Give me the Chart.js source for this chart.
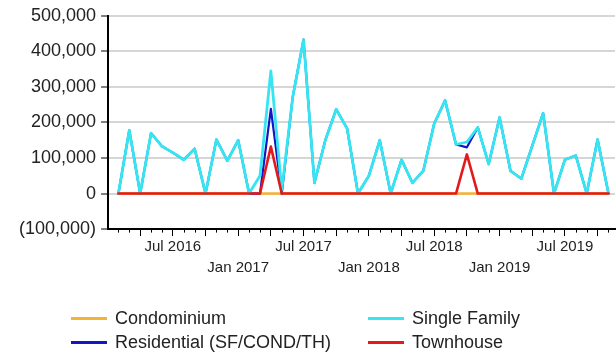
<!DOCTYPE html>
<html><head><meta charset="utf-8">
<script src="https://cdn.jsdelivr.net/npm/chart.js@4"></script>
<style>
html,body{margin:0;padding:0;background:#fff}
#wrap{position:relative;width:616px;height:352px}
.lg{position:absolute;height:20px;font:18px "Liberation Sans",Arial,sans-serif;color:#222;line-height:20px;white-space:nowrap}
.lg span{position:absolute;left:0;top:9px;width:36px;height:3px}
.lg b{font-weight:normal;position:absolute;top:0}
</style></head>
<body>
<div id="wrap">
<canvas id="c"></canvas>
<div id="legend"></div>
</div>
<script>
const months = ["2016-02","2016-03","2016-04","2016-05","2016-06","2016-07","2016-08","2016-09","2016-10","2016-11","2016-12",
"2017-01","2017-02","2017-03","2017-04","2017-05","2017-06","2017-07","2017-08","2017-09","2017-10","2017-11","2017-12",
"2018-01","2018-02","2018-03","2018-04","2018-05","2018-06","2018-07","2018-08","2018-09","2018-10","2018-11","2018-12",
"2019-01","2019-02","2019-03","2019-04","2019-05","2019-06","2019-07","2019-08","2019-09","2019-10","2019-11"];

const condominium = [0,0,0,0,0,0,0,0,0,0,0,
0,0,0,0,0,0,0,0,0,0,0,0,
0,0,0,0,0,0,0,0,0,0,0,0,
0,0,0,0,0,0,0,0,0,0,0];

const residential = [0,178000,0,170000,133000,115000,95000,126000,0,152000,92000,
150000,0,0,238000,0,270000,433000,30000,150000,237000,183000,0,
50000,150000,0,95000,30000,64000,197000,262000,138000,130000,186000,83000,
214000,64000,42000,134000,226000,0,95000,107000,0,152000,0];

const singleFamily = [0,178000,0,170000,133000,115000,95000,126000,0,152000,92000,
150000,0,50000,345000,10000,270000,433000,30000,150000,237000,183000,0,
50000,150000,0,95000,30000,64000,197000,262000,138000,145000,186000,83000,
214000,64000,42000,134000,226000,0,95000,107000,0,152000,0];

const townhouse = [0,0,0,0,0,0,0,0,0,0,0,
0,0,0,132000,0,0,0,0,0,0,0,0,
0,0,0,0,0,0,0,0,0,110000,0,0,
0,0,0,0,0,0,0,0,0,0,0];

const topRowLabels = ["Jul 2016","Jul 2017","Jul 2018","Jul 2019"];
const bottomRowLabels = ["Jan 2017","Jan 2018","Jan 2019"];
const seriesNames = ["Condominium","Residential (SF/COND/TH)","Single Family","Townhouse"];
const seriesColors = ["#f5b335","#1515c8","#35e6f2","#e31a1c"];

const monthNames = ["Jan","Feb","Mar","Apr","May","Jun","Jul","Aug","Sep","Oct","Nov","Dec"];
function monthIndex(s){const p=s.split('-').map(Number);return (p[0]-2016)*12+(p[1]-1);}
function monthName(v){return monthNames[((v%12)+12)%12]+" "+(2016+Math.floor(v/12));}
function pts(arr){return months.map((m,i)=>({x:monthIndex(m),y:arr[i]}));}
function fmt(v){const s=Math.abs(v).toLocaleString('en-US');return v<0?"("+s+")":s;}

const seriesData = [condominium,residential,singleFamily,townhouse];
const drawOrder = [3,2,1,0];
const widths = [2.6,2.2,2.8,2.6];
const datasets = seriesNames.map((n,i)=>({
  label:n, data:pts(seriesData[i]), borderColor:seriesColors[i], backgroundColor:seriesColors[i],
  borderWidth:widths[i], borderJoinStyle:'round', borderCapStyle:'round',
  pointRadius:0, tension:0, fill:false, order:drawOrder[i]
}));

const minorTicks = {
  id:'minorTicks',
  afterDraw(chart){
    const s=chart.scales.x, ctx=chart.ctx;
    ctx.save(); ctx.strokeStyle='#000'; ctx.lineWidth=1;
    s.ticks.forEach((t,i)=>{
      if(t.value%3!==0){
        const x=Math.round(s.getPixelForTick(i))+0.5;
        ctx.beginPath(); ctx.moveTo(x,s.top); ctx.lineTo(x,s.top+3.5); ctx.stroke();
      }
    });
    ctx.restore();
  }
};

new Chart(document.getElementById('c'),{
  type:'line',
  data:{datasets},
  plugins:[minorTicks],
  options:{
    responsive:true, maintainAspectRatio:false, animation:false, devicePixelRatio:1,
    layout:{padding:{left:14,right:1,top:9,bottom:73}},
    plugins:{legend:{display:false},tooltip:{enabled:false}},
    scales:{
      x:{type:'linear',min:0.05,max:46.6,
        afterBuildTicks(s){s.ticks=months.map(m=>({value:monthIndex(m)}));},
        border:{color:'#000',width:2},
        grid:{drawOnChartArea:false,tickLength:7,tickWidth:1,
          tickColor:(c)=>(c.tick&&c.tick.value%3===0)?'#000':'rgba(0,0,0,0)'},
        ticks:{autoSkip:false,maxRotation:0,minRotation:0,padding:0,color:'#222',
          font:{family:'"Liberation Sans", Arial, sans-serif',size:15,lineHeight:1.43},
          callback(v){const n=monthName(v);
            if(topRowLabels.includes(n))return [n,""];
            if(bottomRowLabels.includes(n))return ["",n];
            return "";}
        }
      },
      y:{min:-100000,max:500000,
        border:{color:'#000',width:2},
        grid:{color:(c)=>(c.tick&&c.tick.value===-100000)?'rgba(0,0,0,0)':'#d6d6d6',lineWidth:2,tickColor:'#000',tickLength:7,tickWidth:1},
        ticks:{stepSize:100000,padding:5,color:'#222',
          font:{family:'"Liberation Sans", Arial, sans-serif',size:18},
          callback:(v)=>fmt(v)}
      }
    }
  }
});

const legendPos = [[71,308],[71,332],[368,308],[368,332]];
const lg=document.getElementById('legend');
seriesNames.forEach((n,i)=>{
  const d=document.createElement('div'); d.className='lg';
  d.style.left=legendPos[i][0]+'px'; d.style.top=legendPos[i][1]+'px';
  const sp=document.createElement('span'); sp.style.background=seriesColors[i];
  const b=document.createElement('b'); b.style.left='44px'; b.textContent=n;
  d.appendChild(sp); d.appendChild(b); lg.appendChild(d);
});
</script>
</body></html>
